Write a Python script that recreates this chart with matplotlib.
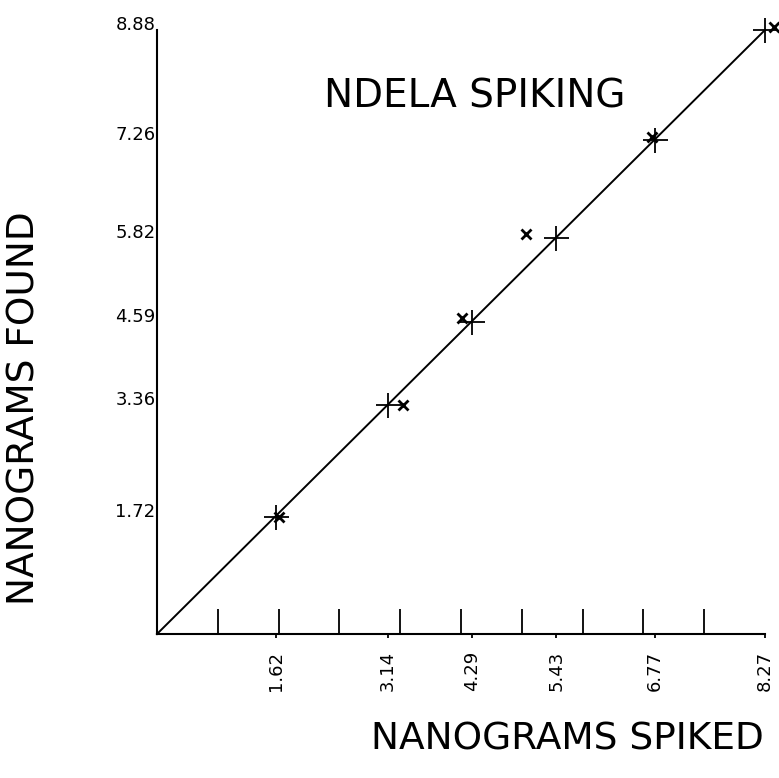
import numpy as np
import matplotlib
matplotlib.use("Agg")
import matplotlib.pyplot as plt

# ng spiked (x) vs ng found (y)
spiked = [1.62, 3.14, 4.29, 5.43, 6.77, 8.27]
found = [1.72, 3.36, 4.59, 5.82, 7.26, 8.88]
# second set of determinations (x markers)
spiked_2 = [1.66, 3.35, 4.15, 5.02, 6.73, 8.39]
found_2 = [1.72, 3.37, 4.65, 5.88, 7.30, 8.92]

x_labels = ["1.62", "3.14", "4.29", "5.43", "6.77", "8.27"]
y_labels = ["1.72", "3.36", "4.59", "5.82", "7.26", "8.88"]

x_max = 8.27
y_max = 8.88

plt.rcParams['font.family'] = ['DejaVu Sans']

W, H = 779, 778
fig = plt.figure(figsize=(W / 100, H / 100), dpi=100)
ax = fig.add_axes([157 / W, (H - 634) / H, 608 / W, 604 / H])
ax.set_xlim(0, x_max)
ax.set_ylim(0, y_max)

# fitted line through origin
ax.plot([0, x_max], [0, y_max], color='black', lw=1.4, clip_on=False, zorder=2)

ax.plot(spiked, found, linestyle='none', marker='+', markersize=18,
        markeredgewidth=1.3, color='black', clip_on=False, zorder=3)
ax.plot(spiked_2, found_2, linestyle='none', marker='x', markersize=7,
        markeredgewidth=2.0, color='black', clip_on=False, zorder=3)

for s in ['top', 'right']:
    ax.spines[s].set_visible(False)
for s in ['left', 'bottom']:
    ax.spines[s].set_linewidth(1.5)

# x axis: minor ticks point up every tenth of the range, labels at spike levels
ax.set_xticks(np.arange(1, 11) * x_max / 10, minor=True)
ax.tick_params(axis='x', which='minor', direction='in', length=18, width=1.3)
ax.set_xticks(spiked)
ax.set_xticklabels(x_labels, rotation=90, va='top', ha='center')
ax.tick_params(axis='x', which='major', direction='out', length=3, width=1.3,
               pad=9, labelsize=13)

ax.set_yticks(found)
ax.set_yticklabels(y_labels)
ax.tick_params(axis='y', length=0, pad=1, labelsize=13)
for lab in ax.get_yticklabels():
    lab.set_verticalalignment('baseline')

fig.text(475 / W, 1 - 97 / H, "NDELA SPIKING", fontsize=28,
         ha='center', va='center')
fig.text(567 / W, 1 - 740 / H, "NANOGRAMS SPIKED", fontsize=27,
         ha='center', va='center')
fig.text(25 / W, 1 - 408 / H, "NANOGRAMS FOUND", fontsize=27,
         rotation=90, ha='center', va='center')

fig.savefig("out.png", dpi=100)
